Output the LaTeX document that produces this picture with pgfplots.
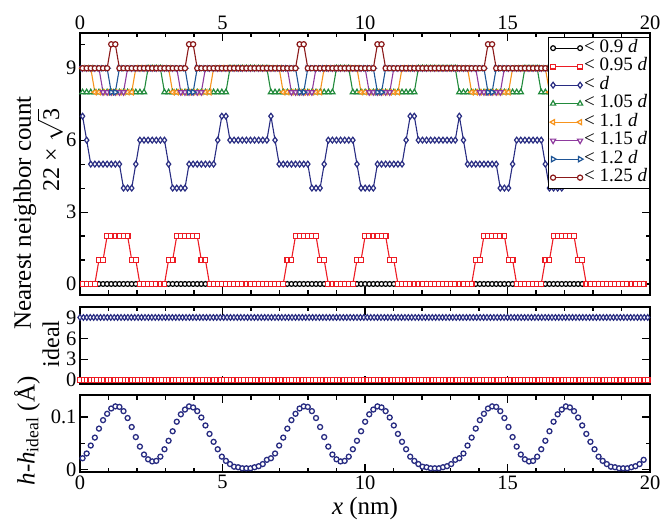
\documentclass[border=0pt]{standalone}
\usepackage{fontspec}
\setmainfont{Liberation Serif}
\usepackage{pgfplots}
\usepackage{pgfplotstable}
\pgfplotsset{compat=1.18}
\definecolor{cnavy}{RGB}{40,44,130}
\definecolor{cred}{RGB}{237,28,36}
\definecolor{cgreen}{RGB}{34,139,60}
\definecolor{corange}{RGB}{247,148,29}
\definecolor{cpurple}{RGB}{142,58,158}
\definecolor{cblue}{RGB}{31,85,150}
\definecolor{cdred}{RGB}{139,26,26}

\pgfplotstableread{
x a b c e f g k m h
0.090 0 0 7 8 9 9 9 9 0.022
0.234 0 0 6 8 9 9 9 9 0.031
0.377 0 0 5 8 9 9 9 9 0.046
0.521 0 0 5 8 8 9 9 9 0.061
0.665 0 1 5 8 8 9 9 9 0.078
0.809 0 1 5 8 8 8 9 9 0.094
0.952 0 2 5 8 8 8 9 9 0.106
1.096 0 2 5 8 8 8 8 10 0.116
1.240 0 2 5 8 8 8 8 10 0.120
1.383 0 2 5 8 8 8 9 9 0.119
1.527 0 2 4 8 8 8 9 9 0.111
1.671 0 2 4 8 8 9 9 9 0.098
1.814 0 1 4 8 8 9 9 9 0.081
1.958 0 1 5 8 9 9 9 9 0.062
2.102 0 0 6 8 9 9 9 9 0.044
2.246 0 0 6 8 9 9 9 9 0.029
2.389 0 0 6 9 9 9 9 9 0.020
2.533 0 0 6 9 9 9 9 9 0.016
2.677 0 0 6 9 9 9 9 9 0.017
2.820 0 0 6 9 9 9 9 9 0.025
2.964 0 0 6 8 9 9 9 9 0.039
3.108 0 1 5 8 9 9 9 9 0.055
3.251 0 1 4 8 8 9 9 9 0.073
3.395 0 2 4 8 8 9 9 9 0.091
3.539 0 2 4 8 8 8 9 9 0.105
3.683 0 2 4 8 8 8 9 9 0.114
3.826 0 2 5 8 8 8 8 10 0.120
3.970 0 2 5 8 8 8 8 10 0.118
4.114 0 2 5 8 8 8 9 9 0.111
4.257 0 1 5 8 8 8 9 9 0.099
4.401 0 1 5 8 8 9 9 9 0.084
4.545 0 0 5 8 8 9 9 9 0.068
4.688 0 0 5 8 9 9 9 9 0.053
4.832 0 0 6 8 9 9 9 9 0.039
4.976 0 0 7 8 9 9 9 9 0.025
5.120 0 0 7 8 9 9 9 9 0.017
5.263 0 0 6 9 9 9 9 9 0.011
5.407 0 0 6 9 9 9 9 9 0.006
5.551 0 0 6 9 9 9 9 9 0.005
5.694 0 0 6 9 9 9 9 9 0.003
5.838 0 0 6 9 9 9 9 9 0.003
5.982 0 0 6 9 9 9 9 9 0.003
6.125 0 0 6 9 9 9 9 9 0.005
6.269 0 0 6 9 9 9 9 9 0.007
6.413 0 0 6 9 9 9 9 9 0.011
6.557 0 0 6 9 9 9 9 9 0.019
6.700 0 0 7 8 9 9 9 9 0.022
6.844 0 0 6 8 9 9 9 9 0.031
6.988 0 0 5 8 9 9 9 9 0.046
7.131 0 0 5 8 8 9 9 9 0.061
7.275 0 1 5 8 8 9 9 9 0.078
7.419 0 1 5 8 8 8 9 9 0.094
7.562 0 2 5 8 8 8 9 9 0.106
7.706 0 2 5 8 8 8 8 10 0.116
7.850 0 2 5 8 8 8 8 10 0.120
7.993 0 2 5 8 8 8 9 9 0.119
8.137 0 2 4 8 8 8 9 9 0.111
8.281 0 2 4 8 8 9 9 9 0.098
8.425 0 1 4 8 8 9 9 9 0.081
8.568 0 1 5 8 9 9 9 9 0.062
8.712 0 0 6 8 9 9 9 9 0.044
8.856 0 0 6 8 9 9 9 9 0.029
8.999 0 0 6 9 9 9 9 9 0.020
9.143 0 0 6 9 9 9 9 9 0.016
9.287 0 0 6 9 9 9 9 9 0.017
9.430 0 0 6 9 9 9 9 9 0.025
9.574 0 0 6 8 9 9 9 9 0.039
9.718 0 1 5 8 9 9 9 9 0.055
9.862 0 1 4 8 8 9 9 9 0.073
10.005 0 2 4 8 8 9 9 9 0.091
10.149 0 2 4 8 8 8 9 9 0.105
10.293 0 2 4 8 8 8 9 9 0.114
10.436 0 2 5 8 8 8 8 10 0.120
10.580 0 2 5 8 8 8 8 10 0.118
10.724 0 2 5 8 8 8 9 9 0.111
10.867 0 1 5 8 8 8 9 9 0.099
11.011 0 1 5 8 8 9 9 9 0.084
11.155 0 0 5 8 8 9 9 9 0.068
11.299 0 0 5 8 9 9 9 9 0.053
11.442 0 0 6 8 9 9 9 9 0.039
11.586 0 0 7 8 9 9 9 9 0.025
11.730 0 0 7 8 9 9 9 9 0.017
11.873 0 0 6 9 9 9 9 9 0.011
12.017 0 0 6 9 9 9 9 9 0.006
12.161 0 0 6 9 9 9 9 9 0.005
12.304 0 0 6 9 9 9 9 9 0.003
12.448 0 0 6 9 9 9 9 9 0.003
12.592 0 0 6 9 9 9 9 9 0.003
12.736 0 0 6 9 9 9 9 9 0.005
12.879 0 0 6 9 9 9 9 9 0.007
13.023 0 0 6 9 9 9 9 9 0.011
13.167 0 0 6 9 9 9 9 9 0.019
13.310 0 0 7 8 9 9 9 9 0.022
13.454 0 0 6 8 9 9 9 9 0.031
13.598 0 0 5 8 9 9 9 9 0.046
13.742 0 0 5 8 8 9 9 9 0.061
13.885 0 1 5 8 8 9 9 9 0.078
14.029 0 1 5 8 8 8 9 9 0.094
14.173 0 2 5 8 8 8 9 9 0.106
14.316 0 2 5 8 8 8 8 10 0.116
14.460 0 2 5 8 8 8 8 10 0.120
14.604 0 2 5 8 8 8 9 9 0.119
14.747 0 2 4 8 8 8 9 9 0.111
14.891 0 2 4 8 8 9 9 9 0.098
15.035 0 1 4 8 8 9 9 9 0.081
15.179 0 1 5 8 9 9 9 9 0.062
15.322 0 0 6 8 9 9 9 9 0.044
15.466 0 0 6 8 9 9 9 9 0.029
15.610 0 0 6 9 9 9 9 9 0.020
15.753 0 0 6 9 9 9 9 9 0.016
15.897 0 0 6 9 9 9 9 9 0.017
16.041 0 0 6 9 9 9 9 9 0.025
16.184 0 0 6 8 9 9 9 9 0.039
16.328 0 1 5 8 9 9 9 9 0.055
16.472 0 1 4 8 8 9 9 9 0.073
16.616 0 2 4 8 8 9 9 9 0.091
16.759 0 2 4 8 8 8 9 9 0.105
16.903 0 2 4 8 8 8 9 9 0.114
17.047 0 2 5 8 8 8 8 10 0.120
17.190 0 2 5 8 8 8 8 10 0.118
17.334 0 2 5 8 8 8 9 9 0.111
17.478 0 1 5 8 8 8 9 9 0.099
17.621 0 1 5 8 8 9 9 9 0.084
17.765 0 0 5 8 8 9 9 9 0.068
17.909 0 0 5 8 9 9 9 9 0.053
18.053 0 0 6 8 9 9 9 9 0.039
18.196 0 0 7 8 9 9 9 9 0.025
18.340 0 0 7 8 9 9 9 9 0.017
18.484 0 0 6 9 9 9 9 9 0.011
18.627 0 0 6 9 9 9 9 9 0.006
18.771 0 0 6 9 9 9 9 9 0.005
18.915 0 0 6 9 9 9 9 9 0.003
19.058 0 0 6 9 9 9 9 9 0.003
19.202 0 0 6 9 9 9 9 9 0.003
19.346 0 0 6 9 9 9 9 9 0.005
19.489 0 0 6 9 9 9 9 9 0.007
19.633 0 0 6 9 9 9 9 9 0.011
19.777 0 0 6 9 9 9 9 9 0.019
}\maintab

\pgfplotstableread[row sep=\\]{
x z n\\
0 0 9\\ 0.12 0 9\\ 0.24 0 9\\ 0.36 0 9\\ 0.48 0 9\\ 0.6 0 9\\ 0.72 0 9\\ 0.84 0 9\\ 0.96 0 9\\ 1.08 0 9\\ 1.2 0 9\\ 1.32 0 9\\ 1.44 0 9\\ 1.56 0 9\\ 1.68 0 9\\ 1.8 0 9\\ 1.92 0 9\\ 2.04 0 9\\ 2.16 0 9\\ 2.28 0 9\\ 2.4 0 9\\ 2.52 0 9\\ 2.64 0 9\\ 2.76 0 9\\ 2.88 0 9\\
3 0 9\\ 3.12 0 9\\ 3.24 0 9\\ 3.36 0 9\\ 3.48 0 9\\ 3.6 0 9\\ 3.72 0 9\\ 3.84 0 9\\ 3.96 0 9\\ 4.08 0 9\\ 4.2 0 9\\ 4.32 0 9\\ 4.44 0 9\\ 4.56 0 9\\ 4.68 0 9\\ 4.8 0 9\\ 4.92 0 9\\ 5.04 0 9\\ 5.16 0 9\\ 5.28 0 9\\ 5.4 0 9\\ 5.52 0 9\\ 5.64 0 9\\ 5.76 0 9\\ 5.88 0 9\\
6 0 9\\ 6.12 0 9\\ 6.24 0 9\\ 6.36 0 9\\ 6.48 0 9\\ 6.6 0 9\\ 6.72 0 9\\ 6.84 0 9\\ 6.96 0 9\\ 7.08 0 9\\ 7.2 0 9\\ 7.32 0 9\\ 7.44 0 9\\ 7.56 0 9\\ 7.68 0 9\\ 7.8 0 9\\ 7.92 0 9\\ 8.04 0 9\\ 8.16 0 9\\ 8.28 0 9\\ 8.4 0 9\\ 8.52 0 9\\ 8.64 0 9\\ 8.76 0 9\\ 8.88 0 9\\
9 0 9\\ 9.12 0 9\\ 9.24 0 9\\ 9.36 0 9\\ 9.48 0 9\\ 9.6 0 9\\ 9.72 0 9\\ 9.84 0 9\\ 9.96 0 9\\ 10.08 0 9\\ 10.2 0 9\\ 10.32 0 9\\ 10.44 0 9\\ 10.56 0 9\\ 10.68 0 9\\ 10.8 0 9\\ 10.92 0 9\\ 11.04 0 9\\ 11.16 0 9\\ 11.28 0 9\\ 11.4 0 9\\ 11.52 0 9\\ 11.64 0 9\\ 11.76 0 9\\ 11.88 0 9\\
12 0 9\\ 12.12 0 9\\ 12.24 0 9\\ 12.36 0 9\\ 12.48 0 9\\ 12.6 0 9\\ 12.72 0 9\\ 12.84 0 9\\ 12.96 0 9\\ 13.08 0 9\\ 13.2 0 9\\ 13.32 0 9\\ 13.44 0 9\\ 13.56 0 9\\ 13.68 0 9\\ 13.8 0 9\\ 13.92 0 9\\ 14.04 0 9\\ 14.16 0 9\\ 14.28 0 9\\ 14.4 0 9\\ 14.52 0 9\\ 14.64 0 9\\ 14.76 0 9\\ 14.88 0 9\\
15 0 9\\ 15.12 0 9\\ 15.24 0 9\\ 15.36 0 9\\ 15.48 0 9\\ 15.6 0 9\\ 15.72 0 9\\ 15.84 0 9\\ 15.96 0 9\\ 16.08 0 9\\ 16.2 0 9\\ 16.32 0 9\\ 16.44 0 9\\ 16.56 0 9\\ 16.68 0 9\\ 16.8 0 9\\ 16.92 0 9\\ 17.04 0 9\\ 17.16 0 9\\ 17.28 0 9\\ 17.4 0 9\\ 17.52 0 9\\ 17.64 0 9\\ 17.76 0 9\\ 17.88 0 9\\
18 0 9\\ 18.12 0 9\\ 18.24 0 9\\ 18.36 0 9\\ 18.48 0 9\\ 18.6 0 9\\ 18.72 0 9\\ 18.84 0 9\\ 18.96 0 9\\ 19.08 0 9\\ 19.2 0 9\\ 19.32 0 9\\ 19.44 0 9\\ 19.56 0 9\\ 19.68 0 9\\ 19.8 0 9\\ 19.92 0 9\\
}\idealtab

\pgfplotsset{
  panel/.style={
    scale only axis, width=570pt, xmin=0, xmax=20,
    xtick={0,5,10,15,20}, minor x tick num=4,
    tick align=inside,
    major tick length=8pt, minor tick length=4.5pt,
    tick style={black, line width=1.1pt},
    axis line style={line width=1.6pt},
    tick label style={font=\fontsize{20.5}{20.5}\selectfont},
    /pgf/number format/assume math mode=true,
    clip=false,
    anchor=south west,
  },
  ser/.style={line width=1.1pt, mark options={solid, fill=white, line width=1.2pt}},
  serr/.style={line width=1.1pt, mark options={solid, fill=white, line width=1.2pt, rotate=#1}},
}

\begin{document}
\begin{tikzpicture}[x=1pt,y=1pt]
\useasboundingbox (0,0) rectangle (663,519);

% top panel
\begin{axis}[panel, at={(80pt,224pt)}, height=262pt,
  ymin=-0.46, ymax=10.47, ytick={0,3,6,9}, minor ytick={1,2,4,5,7,8,10},
  xticklabel pos=upper,
  legend style={at={(1,1)}, anchor=north east, yshift=-4pt, draw=black, line width=0.8pt, fill=white,
    font=\fontsize{19}{19}\selectfont, row sep=0pt, inner sep=1.5pt,
    nodes={inner sep=1pt, text height=12.5pt, text depth=4pt}},
  legend cell align=left,
  legend image code/.code={\draw[#1] plot coordinates {(0pt,0pt) (27pt,0pt)};},
]
\addplot[ser, black, mark=*, mark size=2.4pt] table[x=x,y=a]{\maintab};
\addlegendentry{< 0.9 \textit{d}}
\addplot[ser, cred, mark=square*, mark size=2.4pt] table[x=x,y=b]{\maintab};
\addlegendentry{< 0.95 \textit{d}}
\addplot[ser, cnavy, mark=diamond*, mark size=2.9pt] table[x=x,y=c]{\maintab};
\addlegendentry{< \textit{d}}
\addplot[ser, cgreen, mark=triangle*, mark size=3pt] table[x=x,y=e]{\maintab};
\addlegendentry{< 1.05 \textit{d}}
\addplot[serr=90, corange, mark=triangle*, mark size=3pt] table[x=x,y=f]{\maintab};
\addlegendentry{< 1.1 \textit{d}}
\addplot[serr=180, cpurple, mark=triangle*, mark size=3pt] table[x=x,y=g]{\maintab};
\addlegendentry{< 1.15 \textit{d}}
\addplot[serr=-90, cblue, mark=triangle*, mark size=3pt] table[x=x,y=k]{\maintab};
\addlegendentry{< 1.2 \textit{d}}
\addplot[ser, cdred, mark=*, mark size=2.6pt] table[x=x,y=m]{\maintab};
\addlegendentry{< 1.25 \textit{d}}
\end{axis}

% middle panel
\begin{axis}[panel, at={(80pt,135pt)}, height=77pt,
  ymin=-0.55, ymax=10.5, ytick={0,3,6,9}, xticklabels={}]
\addplot[ser, black, mark=*, mark size=2.3pt] table[x=x,y=z]{\idealtab};
\addplot[ser, cred, mark=square*, mark size=2.3pt] table[x=x,y=z]{\idealtab};
\addplot[ser, cnavy, mark=diamond*, mark size=2.8pt] table[x=x,y=n]{\idealtab};
\end{axis}

% bottom panel
\begin{axis}[panel, at={(80pt,47pt)}, height=77pt,
  ymin=-0.004, ymax=0.1415, ytick={0,0.1}, yticklabels={0,0.1}, minor ytick={0.05}]
\addplot[only marks, cnavy, mark=*, mark size=2.5pt, mark options={fill=white, line width=1.3pt}] table[x=x,y=h]{\maintab};
\end{axis}

\node[rotate=90, font=\fontsize{25}{25}\selectfont] at (25,306) {Nearest neighbor count};
\node[rotate=90, font=\fontsize{24}{24}\selectfont] at (50,369) {22 × $\sqrt{\mbox{3}}$};
\node[rotate=90, font=\fontsize{24}{24}\selectfont] at (51,175) {ideal};
\node[rotate=90, font=\fontsize{25}{25}\selectfont] at (27,88) {\textit{h}-\textit{h}\textsubscript{ideal} (Å)};
\node[font=\fontsize{25}{25}\selectfont] at (365,11) {\textit{x} (nm)};
\end{tikzpicture}
\end{document}
